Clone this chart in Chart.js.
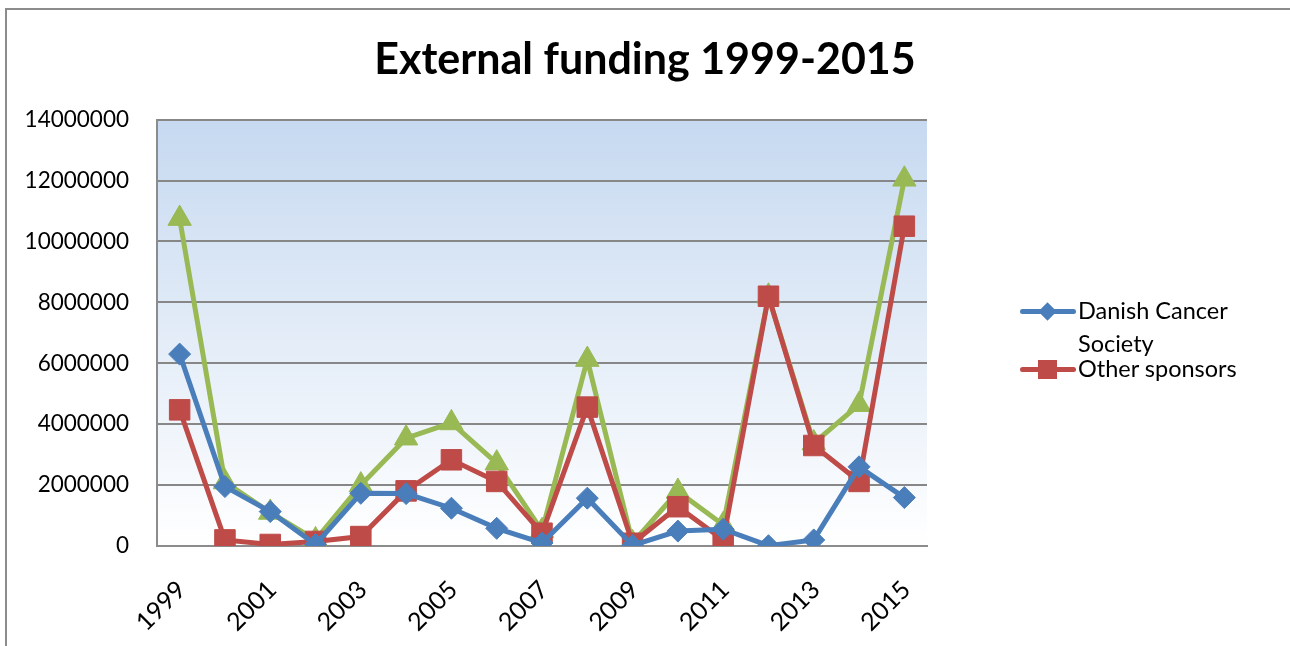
<!DOCTYPE html>
<html>
<head>
<meta charset="utf-8">
<script src="https://cdn.jsdelivr.net/npm/chart.js@4.4.1/dist/chart.umd.min.js"></script>
<style>
  html, body { margin: 0; padding: 0; background: #fff; }
  #wrap { position: relative; width: 1290px; height: 646px; overflow: hidden; font-family: Lato, "Noto Sans", sans-serif; }
  #frame { position: absolute; left: 5px; top: 8px; right: 0; bottom: 0; border-left: 2px solid #8c8c8c; border-top: 2px solid #8c8c8c; }
  #fundingChart { position: absolute; left: 0; top: 0; }
  .legItem { position: absolute; left: 1020px; font-size: 23.5px; color: #000; }
  .legLine { position: absolute; left: 0; width: 56px; height: 5px; border-radius: 3px; }
  .legMark { position: absolute; }
  .legText { position: absolute; left: 58px; width: 190px; line-height: 33px; }
</style>
</head>
<body>
<div id="wrap">
  <div id="frame"></div>
  <canvas id="fundingChart" width="1290" height="646"></canvas>
  <div id="legend"></div>
</div>
<script>
const years = ['1999', '2000', '2001', '2002', '2003', '2004', '2005', '2006', '2007',
  '2008', '2009', '2010', '2011', '2012', '2013', '2014', '2015'];

const danishCancerSociety = [6300000, 1950000, 1130000, 50000, 1730000, 1720000, 1240000, 580000, 100000,
  1570000, 20000, 490000, 550000, 10000, 200000, 2600000, 1590000];

const otherSponsors = [4470000, 200000, 50000, 150000, 310000, 1810000, 2830000, 2120000, 420000,
  4560000, 90000, 1290000, 200000, 8200000, 3300000, 2120000, 10500000];

const totalFunding = [10750000, 2100000, 1100000, 200000, 2000000, 3540000, 4040000, 2720000, 500000,
  6120000, 100000, 1790000, 700000, 8200000, 3380000, 4640000, 12040000];

const yTicks = [0, 2000000, 4000000, 6000000, 8000000, 10000000, 12000000, 14000000];

const blue = '#4a7ebb';
const red = '#be4b48';
const green = '#98b954';
const fontFamily = 'Lato, "Noto Sans", sans-serif';

const plotBackground = {
  id: 'plotBackground',
  beforeDraw(chart) {
    const { ctx, chartArea } = chart;
    const g = ctx.createLinearGradient(0, chartArea.top, 0, chartArea.bottom);
    g.addColorStop(0, '#c6d9f0');
    g.addColorStop(1, '#ffffff');
    ctx.save();
    ctx.fillStyle = g;
    ctx.fillRect(chartArea.left, chartArea.top, chartArea.right - chartArea.left, chartArea.bottom - chartArea.top);
    ctx.restore();
  }
};

const ctx = document.getElementById('fundingChart').getContext('2d');

const chart = new Chart(ctx, {
  type: 'line',
  data: {
    labels: years,
    datasets: [
      {
        label: 'Danish Cancer Society',
        data: danishCancerSociety,
        borderColor: blue,
        backgroundColor: blue,
        borderWidth: 5,
        pointStyle: 'rectRot',
        pointRadius: 11,
        pointBorderWidth: 1,
        tension: 0,
        fill: false,
      },
      {
        label: 'Other sponsors',
        data: otherSponsors,
        borderColor: red,
        backgroundColor: red,
        borderWidth: 5,
        pointStyle: 'rect',
        pointRadius: 14.5,
        pointBorderWidth: 1,
        tension: 0,
        fill: false,
      },
      {
        label: '',
        data: totalFunding,
        borderColor: green,
        backgroundColor: green,
        borderWidth: 5,
        pointStyle: 'triangle',
        pointRadius: 13.5,
        pointBorderWidth: 1,
        tension: 0,
        fill: false,
      },
    ],
  },
  options: {
    responsive: false,
    animation: false,
    layout: {
      padding: 0,
    },
    plugins: {
      legend: { display: false },
      tooltip: { enabled: false },
      title: {
        display: true,
        text: 'External funding 1999-2015',
        color: '#000',
        font: { family: fontFamily, size: 43, weight: 'bold' },
        padding: { top: 34, bottom: 34 },
      },
    },
    scales: {
      x: {
        offset: true,
        grid: { display: false, drawTicks: false },
        border: { color: '#8c8c8c', width: 2 },
        ticks: {
          autoSkip: false,
          maxRotation: 45,
          minRotation: 45,
          padding: 29,
          labelOffset: 2,
          color: '#000',
          font: { family: fontFamily, size: 25 },
          callback: (value, index) => (index % 2 === 0 ? years[index] : ''),
        },
        afterFit: (scale) => { scale.height = 100; },
      },
      y: {
        min: 0,
        max: 14000000,
        afterBuildTicks: (scale) => { scale.ticks = yTicks.map(v => ({ value: v })); },
        grid: { color: '#878787', lineWidth: 2, drawTicks: false },
        border: { color: '#8c8c8c', width: 2 },
        ticks: {
          padding: 28,
          color: '#000',
          font: { family: fontFamily, size: 22.5 },
          callback: (value) => String(value),
        },
        afterFit: (scale) => { scale.width = 157; },
      },
      // empty right-hand axis that reserves the room the legend sits in
      legendSpace: {
        position: 'right',
        min: 0,
        max: 1,
        grid: { display: false, drawTicks: false },
        border: { display: false },
        ticks: { display: false },
        afterFit: (scale) => { scale.width = 363; },
      },
    },
  },
  plugins: [plotBackground],
});

// legend only lists the two named series
const legend = document.getElementById('legend');
const legendRows = [
  { ds: chart.data.datasets[0], top: 294, shape: 'diamond' },
  { ds: chart.data.datasets[1], top: 352, shape: 'square' },
];
legendRows.forEach(({ ds, top, shape }) => {
  const item = document.createElement('div');
  item.className = 'legItem';
  item.style.top = top + 'px';
  const line = document.createElement('div');
  line.className = 'legLine';
  line.style.top = '15px';
  line.style.background = ds.borderColor;
  const mark = document.createElement('div');
  mark.className = 'legMark';
  mark.style.background = ds.borderColor;
  if (shape === 'diamond') {
    mark.style.width = '13px'; mark.style.height = '13px';
    mark.style.left = '21px'; mark.style.top = '11px';
    mark.style.transform = 'rotate(45deg)';
  } else {
    mark.style.width = '19px'; mark.style.height = '19px';
    mark.style.left = '18px'; mark.style.top = '8px';
  }
  const text = document.createElement('div');
  text.className = 'legText';
  text.style.top = '0px';
  text.textContent = ds.label;
  item.append(line, mark, text);
  legend.appendChild(item);
});
</script>
</body>
</html>
